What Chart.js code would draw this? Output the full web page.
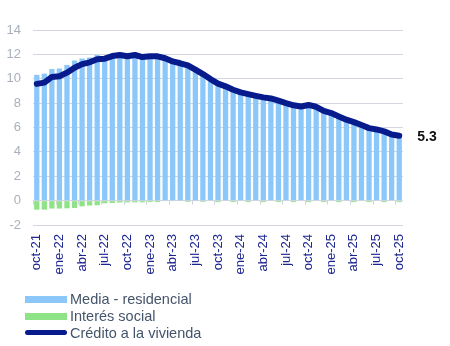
<!DOCTYPE html>
<html><head><meta charset="utf-8">
<script src="https://cdn.jsdelivr.net/npm/chart.js@4"></script>
<style>
html,body{margin:0;padding:0;background:#fff;}
#wrap{position:relative;width:450px;height:346px;overflow:hidden;}
#legend{position:absolute;left:25px;top:291px;font-family:"Liberation Sans",Arial,sans-serif;font-size:14.5px;color:#44546a;}
.item{display:flex;align-items:center;height:16.7px;white-space:nowrap;}
.sw{width:42px;margin-right:3px;flex:none;}
</style></head>
<body><div id="wrap"><canvas id="c" width="450" height="346"></canvas><div id="legend"></div></div>
<script>
const categories = [
 'oct-21','nov-21','dic-21',
 'ene-22','feb-22','mar-22','abr-22','may-22','jun-22','jul-22','ago-22','sep-22','oct-22','nov-22','dic-22',
 'ene-23','feb-23','mar-23','abr-23','may-23','jun-23','jul-23','ago-23','sep-23','oct-23','nov-23','dic-23',
 'ene-24','feb-24','mar-24','abr-24','may-24','jun-24','jul-24','ago-24','sep-24','oct-24','nov-24','dic-24',
 'ene-25','feb-25','mar-25','abr-25','may-25','jun-25','jul-25','ago-25','sep-25','oct-25'
];
const mediaResidencial = [
 10.32,10.42,10.80,
 10.85,11.13,11.50,11.67,11.75,11.95,11.87,12.06,12.11,11.98,12.09,11.92,
 11.96,11.96,11.68,11.42,11.27,11.20,10.75,10.48,9.97,9.72,9.38,9.22,
 8.88,8.86,8.60,8.59,8.38,8.32,8.00,7.94,7.72,7.97,7.70,7.48,
 7.18,7.03,6.64,6.56,6.20,6.07,5.84,5.80,5.43,5.45
];
const interesSocial = [
 -0.74,-0.74,-0.65,
 -0.65,-0.63,-0.60,-0.47,-0.40,-0.38,-0.22,-0.20,-0.16,-0.14,-0.14,-0.14,
 -0.12,-0.12,0,0,0,-0.10,0,-0.10,0,-0.12,0,-0.12,
 0,-0.12,0,-0.12,0,-0.12,0,-0.12,0,-0.12,0,-0.12,
 0,-0.12,0,-0.12,0,-0.12,0,-0.12,0,-0.12
];
const creditoVivienda = [
 9.58,9.68,10.15,
 10.20,10.50,10.90,11.20,11.35,11.60,11.65,11.86,11.95,11.84,11.95,11.78,
 11.84,11.84,11.68,11.42,11.27,11.10,10.75,10.38,9.97,9.60,9.38,9.10,
 8.88,8.74,8.60,8.47,8.38,8.20,8.00,7.82,7.72,7.85,7.70,7.36,
 7.18,6.91,6.64,6.44,6.20,5.95,5.84,5.68,5.43,5.33
];
const seriesNames = ['Media - residencial','Interés social','Crédito a la vivienda'];
const yMin = -2, yMax = 14, yStep = 2;
const labelEvery = 3;

const FONT = '"Liberation Sans", Arial, sans-serif';

const extras = {
  id: 'extras',
  afterDatasetsDraw(chart) {
    const ctx = chart.ctx;
    const x = chart.scales.x, y = chart.scales.y;
    const half = (x.getPixelForValue(1) - x.getPixelForValue(0)) / 2;
    const y0 = y.getPixelForValue(0);
    ctx.save();
    ctx.strokeStyle = '#cfd3db';
    ctx.lineWidth = 1;
    for (let i = 0; i < categories.length; i += labelEvery) {
      const px = Math.round(x.getPixelForValue(i) - half) + 0.5;
      ctx.beginPath();
      ctx.moveTo(px, y0);
      ctx.lineTo(px, y0 + 4);
      ctx.stroke();
    }
    // end value label
    const meta = chart.getDatasetMeta(2);
    const last = meta.data[meta.data.length - 1];
    const v = creditoVivienda[creditoVivienda.length - 1];
    ctx.fillStyle = '#111';
    ctx.font = 'bold 14px ' + FONT;
    ctx.textAlign = 'left';
    ctx.textBaseline = 'middle';
    ctx.fillText(v.toFixed(1), last.x + 18, last.y + 1);
    ctx.restore();
  }
};

const chart = new Chart(document.getElementById('c'), {
  data: {
    labels: categories,
    datasets: [
      { type: 'bar', label: seriesNames[0], data: mediaResidencial, backgroundColor: '#8cc7fa', stack: 'bars', order: 2, barPercentage: 0.7, categoryPercentage: 1 },
      { type: 'bar', label: seriesNames[1], data: interesSocial, backgroundColor: '#8ee386', stack: 'bars', order: 2, barPercentage: 0.7, categoryPercentage: 1 },
      { type: 'line', label: seriesNames[2], data: creditoVivienda, borderColor: '#071b8c', backgroundColor: '#071b8c', borderWidth: 6, pointRadius: 0, tension: 0, stack: 'line', order: 1, borderCapStyle: 'round', borderJoinStyle: 'round' }
    ]
  },
  options: {
    responsive: false,
    animation: false,
    layout: { padding: { left: 0, right: 47, top: 30, bottom: 69 } },
    plugins: { legend: { display: false }, tooltip: { enabled: false } },
    scales: {
      x: {
        stacked: true,
        grid: { display: false, drawTicks: false },
        border: { display: false },
        afterFit(s) { s.height = 52; },
        ticks: {
          autoSkip: false, maxRotation: 90, minRotation: 90, padding: 9,
          color: '#1c2490', font: { family: FONT, size: 13 },
          callback: (v, i) => (i % labelEvery === 0 ? categories[i] : null)
        }
      },
      y: {
        stacked: true,
        min: yMin, max: yMax,
        afterFit(s) { s.width = 33; },
        grid: { color: '#d3d6de', drawTicks: false, lineWidth: 1 },
        border: { display: false },
        ticks: { stepSize: yStep, padding: 12, color: '#a8b0bc', font: { family: FONT, size: 13 } }
      }
    }
  },
  plugins: [extras]
});

// HTML legend built from the datasets
const leg = document.getElementById('legend');
chart.data.datasets.forEach(ds => {
  const row = document.createElement('div');
  row.className = 'item';
  const sw = document.createElement('span');
  sw.className = 'sw';
  if (ds.type === 'line') {
    sw.style.height = '5px';
    sw.style.borderRadius = '3px';
    sw.style.background = ds.borderColor;
  } else {
    sw.style.height = '7px';
    sw.style.background = ds.backgroundColor;
  }
  const t = document.createElement('span');
  t.textContent = ds.label;
  row.appendChild(sw);
  row.appendChild(t);
  leg.appendChild(row);
});
</script>
</body></html>
